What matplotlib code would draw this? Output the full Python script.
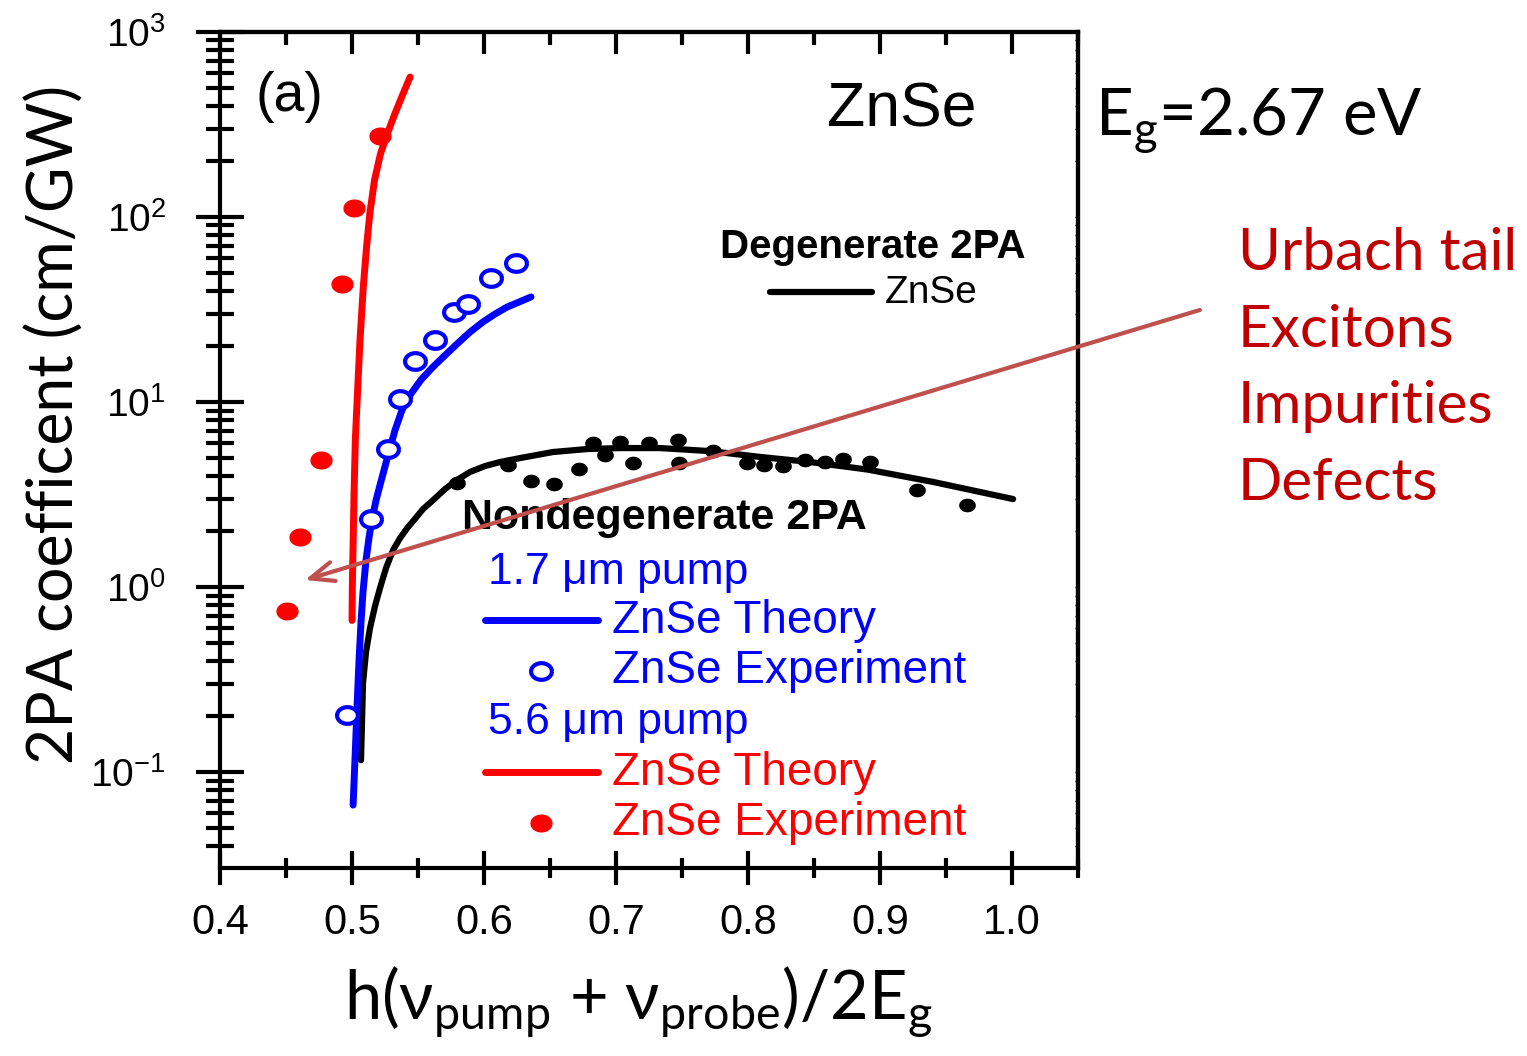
import numpy as np
import matplotlib.pyplot as plt
from matplotlib.path import Path
from matplotlib.lines import Line2D
from matplotlib.ticker import LogLocator, MultipleLocator, NullFormatter

plt.rcParams['font.family'] = ['Liberation Sans', 'DejaVu Sans']
plt.rcParams['mathtext.fontset'] = 'custom'
plt.rcParams['mathtext.rm'] = 'Liberation Sans'
plt.rcParams['mathtext.it'] = 'Liberation Sans:italic'

# Degenerate 2PA in ZnSe (theory curve and measured points)
deg_theory_x = [0.5068, 0.5083, 0.5106, 0.5136, 0.5174, 0.5212, 0.5258, 0.5311, 0.5364,
                0.5417, 0.5462, 0.5538, 0.5614, 0.5705, 0.5795, 0.5894, 0.6008, 0.6121,
                0.6273, 0.6523, 0.6780, 0.7030, 0.7333, 0.7712, 0.8091, 0.8470, 0.8902,
                0.9402, 1.0008]
deg_theory_y = [0.116, 0.303, 0.446, 0.600, 0.789, 0.989, 1.27, 1.585, 1.84,
                2.08, 2.27, 2.64, 2.95, 3.39, 3.79, 4.19, 4.51, 4.74,
                4.98, 5.37, 5.57, 5.64, 5.64, 5.43, 5.05, 4.74, 4.32,
                3.70, 2.99]
deg_exp_x = [0.5795, 0.6182, 0.6356, 0.6530, 0.6720, 0.6826, 0.6917, 0.7030, 0.7129,
             0.7250, 0.7470, 0.7477, 0.7735, 0.7992, 0.8121, 0.8265, 0.8432, 0.8583,
             0.8720, 0.8924, 0.9280, 0.9659]
deg_exp_y = [3.65, 4.56, 3.74, 3.60, 4.34, 6.00, 5.17, 6.08, 4.68,
             6.00, 6.23, 4.68, 5.43, 4.68, 4.56, 4.51, 4.86, 4.74,
             4.92, 4.74, 3.34, 2.77]

# Nondegenerate 2PA, 1.7 um pump
nd17_theory_x = [0.5008, 0.5023, 0.5038, 0.5053, 0.5068, 0.5083, 0.5106, 0.5129, 0.5152,
                 0.5182, 0.5220, 0.5273, 0.5326, 0.5379, 0.5439, 0.5523, 0.5614, 0.5705,
                 0.5795, 0.5894, 0.5992, 0.6083, 0.6174, 0.6273, 0.6356]
nd17_theory_y = [0.0663, 0.1205, 0.2275, 0.403, 0.647, 0.940, 1.40, 1.86, 2.33,
                 2.95, 3.74, 5.17, 7.06, 9.06, 10.9, 13.2, 15.5, 17.9,
                 20.6, 23.9, 27.1, 29.9, 32.6, 34.9, 37.0]
nd17_exp_x = [0.4962, 0.5144, 0.5273, 0.5364, 0.5477, 0.5629, 0.5773, 0.5879, 0.6053, 0.6242]
nd17_exp_y = [0.203, 2.33, 5.57, 10.4, 16.7, 21.6, 30.7, 33.9, 46.8, 56.4]

# Nondegenerate 2PA, 5.6 um pump
nd56_theory_x = [0.5000, 0.5002, 0.5015, 0.5025, 0.5038, 0.5060, 0.5085, 0.5110, 0.5135,
                 0.5170, 0.5215, 0.5265, 0.5320, 0.5380, 0.5440]
nd56_theory_y = [0.66, 1.0, 3.16, 6.3, 10, 21.4, 41.7, 69, 105,
                 158, 219, 279, 355, 452, 571]
nd56_exp_x = [0.4508, 0.4606, 0.4765, 0.4924, 0.5015, 0.5212]
nd56_exp_y = [0.74, 1.86, 4.86, 43.4, 112, 274]

xticks = [0.4, 0.5, 0.6, 0.7, 0.8, 0.9, 1.0]
xticklabels = ['0.4', '0.5', '0.6', '0.7', '0.8', '0.9', '1.0']
yticks = [0.1, 1, 10, 100, 1000]
yticklabels = [r'$\mathregular{10^{-1}}$', r'$\mathregular{10^{0}}$', r'$\mathregular{10^{1}}$',
               r'$\mathregular{10^{2}}$', r'$\mathregular{10^{3}}$']

urbach_lines = ['Urbach tail', 'Excitons', 'Impurities', 'Defects']

RED = '#FF0000'
BLUE = '#0000FF'
DARKRED = '#C00000'
ARROW = '#C0504D'
CAL = ['Lato', 'DejaVu Sans']

# slightly wide oval marker
t = np.linspace(0, 2 * np.pi, 64)
oval = Path(np.column_stack([1.25 * np.cos(t), np.sin(t)]))

fig = plt.figure(figsize=(15.27, 10.56), dpi=100)
ax = fig.add_axes([0.1441, 0.178, 0.5619, 0.7917])

ax.plot(deg_theory_x, deg_theory_y, color='black', lw=4.5, solid_capstyle='round',
        solid_joinstyle='round', zorder=3)
ax.plot(nd17_theory_x, nd17_theory_y, color=BLUE, lw=5, solid_capstyle='round',
        solid_joinstyle='round', zorder=3)
ax.plot(nd56_theory_x, nd56_theory_y, color=RED, lw=5, solid_capstyle='round',
        solid_joinstyle='round', zorder=3)
ax.plot(deg_exp_x, deg_exp_y, ls='none', marker=oval, ms=11, color='black', zorder=4)
ax.plot(nd17_exp_x, nd17_exp_y, ls='none', marker=oval, ms=15, mfc='white',
        mec=BLUE, mew=3, zorder=4)
ax.plot(nd56_exp_x, nd56_exp_y, ls='none', marker=oval, ms=15, color=RED, zorder=4)

ax.set_yscale('log')
ax.set_xlim(0.4, 1.05)
ax.set_ylim(0.0303, 1000)

ax.set_xticks(xticks)
ax.set_xticklabels(xticklabels)
ax.xaxis.set_minor_locator(MultipleLocator(0.05))
ax.set_yticks(yticks)
ax.set_yticklabels(yticklabels)
ax.yaxis.set_minor_locator(LogLocator(base=10, subs=np.arange(2, 10)))
ax.yaxis.set_minor_formatter(NullFormatter())

for sp in ax.spines.values():
    sp.set_linewidth(3)
ax.tick_params(axis='x', which='major', direction='inout', length=24, width=3,
               labelsize=30, pad=13, top=False)
ax.tick_params(axis='x', which='minor', direction='inout', length=15, width=3, top=False)
ax.tick_params(axis='y', which='major', direction='inout', length=34, width=3,
               labelsize=28, pad=22, right=False)
ax.tick_params(axis='y', which='minor', direction='inout', length=20, width=3, right=False)

top = ax.secondary_xaxis('top')
top.set_xticks(xticks)
top.xaxis.set_minor_locator(MultipleLocator(0.05))
top.tick_params(which='major', direction='in', length=16, width=3, labeltop=False)
top.tick_params(which='minor', direction='in', length=9, width=3)
top.spines['top'].set_linewidth(3)

right = ax.secondary_yaxis('right')
right.set_yticks(yticks)
right.yaxis.set_minor_locator(LogLocator(base=10, subs=np.arange(2, 10)))
right.tick_params(which='both', direction='in', length=2, width=1, labelright=False)
right.yaxis.set_minor_formatter(NullFormatter())
right.spines['right'].set_linewidth(3)

ax.set_ylabel('2PA coefficent (cm/GW)', fontsize=45, family=CAL)
ax.yaxis.set_label_coords(-0.158, 0.53)
ax.set_xlabel(r'h(ν$_{\mathregular{pump}}$ + ν$_{\mathregular{probe}}$)/2E$_{\mathregular{g}}$',
              fontsize=48, family=CAL)
ax.xaxis.set_label_coords(0.4870, -0.115)

# panel annotations
ax.text(0.041, 0.922, '(a)', transform=ax.transAxes, fontsize=40, va='center')
ax.text(0.794, 0.907, 'ZnSe', transform=ax.transAxes, fontsize=45, ha='center', va='center')
ax.text(1.02, 0.877, r'E$_{\mathregular{g}}$=2.67 eV', transform=ax.transAxes,
        fontsize=47, family=CAL, va='baseline')
for i, s in enumerate(urbach_lines):
    ax.text(1.1865, 0.715 - i * 0.0915, s, transform=ax.transAxes, fontsize=42,
            family=CAL, color=DARKRED, va='baseline')

# legend block
tr = ax.transAxes
ax.text(0.5828, 0.7428, 'Degenerate 2PA', transform=tr, fontsize=29, weight='bold', va='center')
ax.add_line(Line2D([0.641, 0.760], [0.689, 0.689], transform=tr, color='black', lw=4.5,
                   solid_capstyle='round'))
ax.text(0.775, 0.6878, 'ZnSe', transform=tr, fontsize=28, va='center')
ax.text(0.282, 0.4187, 'Nondegenerate 2PA', transform=tr, fontsize=31, weight='bold', va='center')
ax.text(0.3124, 0.354, '1.7 μm pump', transform=tr, fontsize=32, color=BLUE, va='center')
ax.add_line(Line2D([0.3089, 0.4406], [0.2967, 0.2967], transform=tr, color=BLUE, lw=5,
                   solid_capstyle='round'))
ax.text(0.4569, 0.2955, 'ZnSe Theory', transform=tr, fontsize=33, color=BLUE, va='center')
ax.add_line(Line2D([0.3741], [0.2356], transform=tr, ls='none', marker=oval, ms=15,
                   mfc='white', mec=BLUE, mew=3))
ax.text(0.4569, 0.2356, 'ZnSe Experiment', transform=tr, fontsize=33, color=BLUE, va='center')
ax.text(0.3124, 0.1746, '5.6 μm pump', transform=tr, fontsize=32, color=BLUE, va='center')
ax.add_line(Line2D([0.3089, 0.4406], [0.1148, 0.1148], transform=tr, color=RED, lw=5,
                   solid_capstyle='round'))
ax.text(0.4569, 0.1136, 'ZnSe Theory', transform=tr, fontsize=33, color=RED, va='center')
ax.add_line(Line2D([0.3741], [0.0538], transform=tr, ls='none', marker=oval, ms=15, color=RED))
ax.text(0.4569, 0.0538, 'ZnSe Experiment', transform=tr, fontsize=33, color=RED, va='center')

ax.annotate('', xy=(0.099, 0.3445), xytext=(1.142, 0.6675), xycoords='axes fraction',
            textcoords='axes fraction', annotation_clip=False, zorder=10,
            arrowprops=dict(arrowstyle='->,head_length=0.85,head_width=0.35',
                            mutation_scale=20, color=ARROW, lw=3,
                            shrinkA=0, shrinkB=0))

fig.savefig('out.png', dpi=100)
